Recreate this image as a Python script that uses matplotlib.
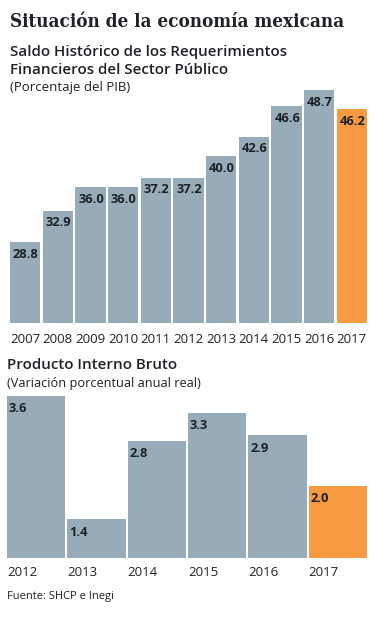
import matplotlib
matplotlib.use('Agg')
import matplotlib.pyplot as plt
import numpy as np

# data
deuda_years = ['2007', '2008', '2009', '2010', '2011', '2012', '2013', '2014', '2015', '2016', '2017']
deuda_values = [28.8, 32.9, 36.0, 36.0, 37.2, 37.2, 40.0, 42.6, 46.6, 48.7, 46.2]
pib_years = ['2012', '2013', '2014', '2015', '2016', '2017']
pib_values = [3.6, 1.4, 2.8, 3.3, 2.9, 2.0]

GREY = '#97acb8'
ORANGE = '#f79a42'
TXT = '#1e2226'

plt.rcParams['font.family'] = ['Open Sans', 'DejaVu Sans']

W, H = 375, 620
fig = plt.figure(figsize=(W / 100, H / 100), dpi=100)


def px_axes(left, top, right, bottom):
    return fig.add_axes([left / W, 1 - bottom / H, (right - left) / W, (bottom - top) / H])


def bar_colors(n):
    return [GREY] * (n - 1) + [ORANGE]


def clean(ax):
    for s in ax.spines.values():
        s.set_visible(False)
    ax.tick_params(length=0, labelsize=9.5, labelcolor=TXT)
    ax.set_yticks([])


# titles
fig.text(10 / W, 1 - 22 / H, 'Situación de la economía mexicana', family='DejaVu Serif',
         weight='bold', stretch='condensed', fontsize=13.5, va='center', color=TXT)
fig.text(10 / W, 1 - 52 / H, 'Saldo Histórico de los Requerimientos', fontsize=10.9,
         weight='semibold', va='center', color=TXT)
fig.text(10 / W, 1 - 70 / H, 'Financieros del Sector Público', fontsize=10.9,
         weight='semibold', va='center', color=TXT)
fig.text(10 / W, 1 - 88 / H, '(Porcentaje del PIB)', fontsize=9.5, va='center', color=TXT)

# top chart
ax1 = px_axes(10, 90, 367, 323)
x1 = np.arange(len(deuda_values))
w1 = 0.93
ax1.bar(x1, deuda_values, width=w1, color=bar_colors(len(x1)))
ax1.set_xlim(-0.5 + (1 - w1) / 2, len(x1) - 0.5 - (1 - w1) / 2)
ax1.set_ylim(18.2, 48.7)
ax1.set_xticks(x1)
ax1.set_xticklabels(deuda_years)
clean(ax1)
ax1.tick_params(pad=7)
for xi, v in zip(x1, deuda_values):
    ax1.annotate(f'{v:.1f}', (xi - w1 / 2, v), xytext=(3, -12), textcoords='offset pixels',
                 fontsize=9.3, weight='bold', color=TXT, va='center', ha='left')

# bottom chart
fig.text(7 / W, 1 - 365 / H, 'Producto Interno Bruto', fontsize=10.9,
         weight='semibold', va='center', color=TXT)
fig.text(7 / W, 1 - 383 / H, '(Variación porcentual anual real)', fontsize=9.2,
         va='center', color=TXT)

ax2 = px_axes(7, 396, 367, 558)
x2 = np.arange(len(pib_values))
w2 = 0.97
ax2.bar(x2, pib_values, width=w2, color=bar_colors(len(x2)))
ax2.set_xlim(-0.5 + (1 - w2) / 2, len(x2) - 0.5 - (1 - w2) / 2)
ax2.set_ylim(0.71, 3.6)
ax2.set_xticks(x2 - w2 / 2)
ax2.set_xticklabels(pib_years, ha='left')
clean(ax2)
ax2.tick_params(pad=6)
for xi, v in zip(x2, pib_values):
    ax2.annotate(f'{v:.1f}', (xi - w2 / 2, v), xytext=(2, -13), textcoords='offset pixels',
                 fontsize=9.3, weight='bold', color=TXT, va='center', ha='left')

fig.text(7 / W, 1 - 597 / H, 'Fuente: SHCP e Inegi', fontsize=8, va='center', color=TXT)

fig.savefig('out.png', dpi=100)
